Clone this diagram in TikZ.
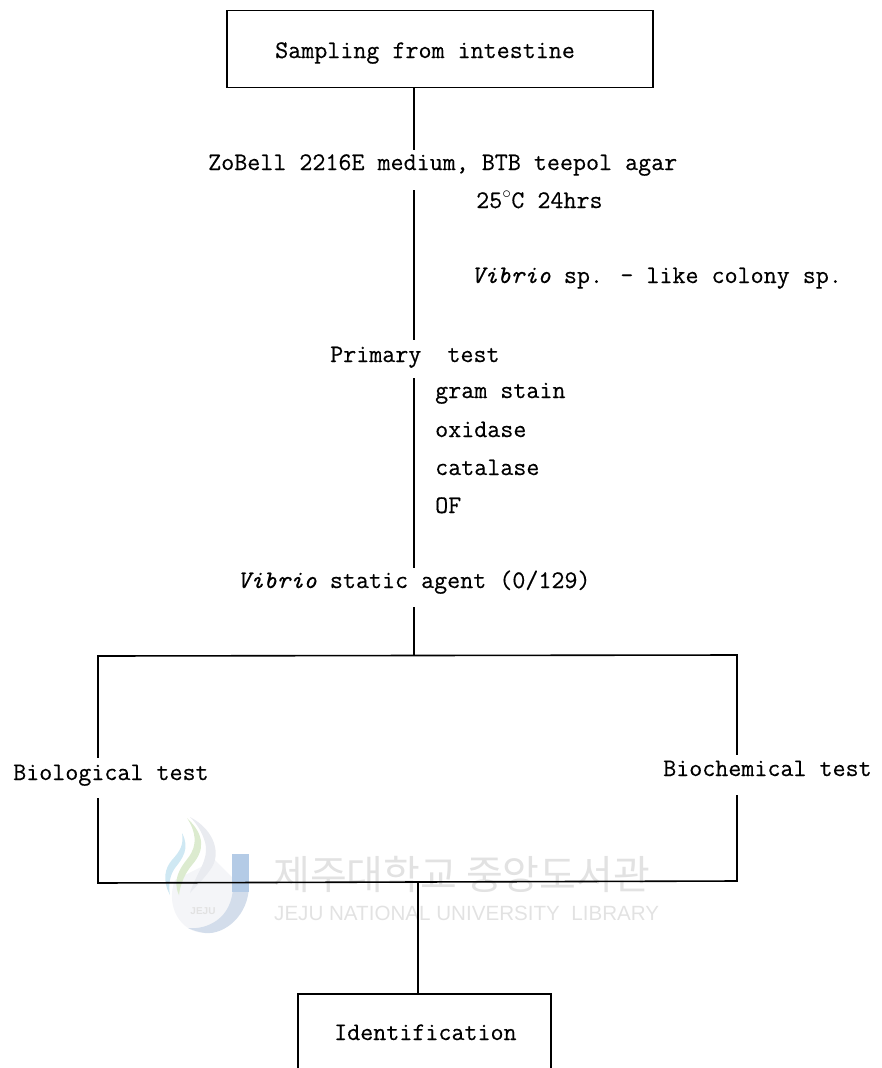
\documentclass[tikz,border=0pt]{standalone}
\usepackage{fontspec}
\newfontfamily\krfont{Noto Sans CJK KR}
\newfontfamily\wmfont{Liberation Sans}
\newfontfamily\labfont[FakeBold=0.35]{Latin Modern Mono}
\definecolor{wmgray}{HTML}{E2E2E2}
\definecolor{wmblue}{HTML}{B4CBE6}
\definecolor{wmcyan}{HTML}{CFE8F3}
\definecolor{wmgreen}{HTML}{DCEBCF}
\definecolor{wmpale}{HTML}{E9EBF0}
\definecolor{wmdrop}{HTML}{F4F5F8}
\definecolor{wmcurve}{HTML}{D3DDEB}
\tikzset{
  lab/.style={font=\labfont\fontsize{25.3}{28}\selectfont, inner sep=0pt, anchor=base west, text=black},
  boxn/.style={draw=black, line width=1.6pt, inner sep=0pt},
  conn/.style={draw=black, line width=1.6pt},
}
\begin{document}
\begin{tikzpicture}[x=1pt,y=-1pt]
\useasboundingbox (0,0) rectangle (882,1068);
% watermark
\fill[wmdrop] (175,880) .. controls (165,905) and (180,933) .. (205,933) .. controls (225,933) and (240,915) .. (240,885) -- (215,860) -- cycle;
\fill[wmpale] (190,817) .. controls (215,830) and (222,855) .. (210,870) .. controls (203,880) and (197,885) .. (190,893) .. controls (195,875) and (210,860) .. (205,842) .. controls (202,832) and (197,824) .. (190,817) -- cycle;
\fill[wmgreen] (187,818) .. controls (205,835) and (205,850) .. (192,865) .. controls (185,873) and (180,885) .. (179,895) .. controls (172,880) and (180,868) .. (188,858) .. controls (198,845) and (196,832) .. (187,818) -- cycle;
\fill[wmcyan] (182,833) .. controls (190,848) and (183,858) .. (175,868) .. controls (170,875) and (168,885) .. (170,895) .. controls (162,880) and (165,868) .. (172,860) .. controls (180,851) and (184,845) .. (182,833) -- cycle;
\fill[wmcurve] (249,885) .. controls (249,915) and (225,935) .. (205,933) .. controls (198,932) and (192,930) .. (188,928) .. controls (205,930) and (233,920) .. (233,885) -- cycle;
\fill[wmblue] (232,854) -- (249,854) -- (249,892) -- (232,892) -- cycle;
\node[font=\wmfont\bfseries\fontsize{10}{10}\selectfont, text=wmgray, inner sep=0pt] (wmlogo) at (203,911) {JEJU};
\node[font=\krfont\fontsize{40}{40}\selectfont, text=wmgray, inner sep=0pt, anchor=base west] (wmkr) at (273,889) {제주대학교 중앙도서관};
\node[font=\wmfont\fontsize{20.6}{21}\selectfont, text=wmgray, inner sep=0pt, anchor=base west] (wmen) at (274,920) {JEJU NATIONAL UNIVERSITY\ \ LIBRARY};
% text nodes
\coordinate (spine) at (414,0);
\coordinate (drop) at (418,0);
\coordinate (tl) at (98,656);
\coordinate (tr) at (737,655);
\coordinate (bl) at (98,883);
\coordinate (br) at (737,881);
\node[boxn, minimum width=426pt, minimum height=77pt] (samp) at (440,49) {};
\node[lab] (samptxt) at (275,58) {Sampling from intestine};
\node[lab, text height=20pt, text depth=20pt] (zob) at (208,170) {ZoBell 2216E medium, BTB teepol agar};
\node[lab] (temp) at (476,208) {25${}^\circ$C 24hrs};
\node[lab] (like) at (471,283) {{\itshape Vibrio} sp. - like colony sp.};
\node[lab, text height=22pt, text depth=16pt] (prim) at (330,362) {Primary\ \ test};
\node[lab] (gram) at (435,398) {gram stain};
\node[lab] (oxi) at (435,437) {oxidase};
\node[lab] (cat) at (435,475) {catalase};
\node[lab] (of) at (435,513) {OF};
\node[lab, text height=20pt, text depth=19pt] (stat) at (237,588) {{\itshape Vibrio} static agent (0/129)};
\node[lab, text height=22pt, text depth=18pt] (bio) at (13,780) {Biological test};
\node[lab, text height=21pt, text depth=19pt] (bch) at (663,776) {Biochemical test};
\node[boxn, minimum width=253pt, minimum height=100pt] (idb) at (424.5,1044) {};
\node[lab] (idt) at (334,1040) {Identification};
% connectors
\draw[conn] (samp.south -| spine) -- (zob.north -| spine);
\draw[conn] (zob.south -| spine) -- (prim.north -| spine);
\draw[conn] (prim.south -| spine) -- (stat.north -| spine);
\draw[conn] (stat.south -| spine) -- (tl -| spine);
\draw[conn] (bio.north -| tl) -- (tl) -- (tr) -- (bch.north -| tr);
\draw[conn] (bio.south -| bl) -- (bl) -- (br) -- (bch.south -| br);
\draw[conn] (drop |- bl) -- (idb.north -| drop);
\end{tikzpicture}
\end{document}
